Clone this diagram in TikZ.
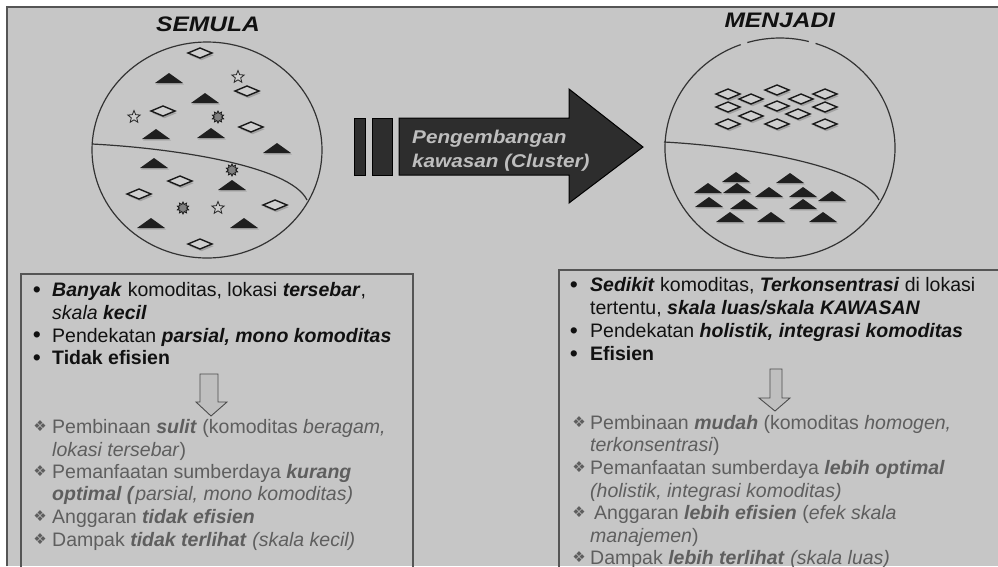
\documentclass[tikz,border=0pt]{standalone}
\usepackage{fontspec}
\setmainfont{Liberation Sans}
\newfontfamily\symfont{DejaVu Sans}
\usetikzlibrary{shapes.geometric}
\definecolor{bgc}{HTML}{C6C6C6}
\definecolor{framec}{HTML}{555555}
\definecolor{tblack}{HTML}{111111}
\definecolor{tgray}{HTML}{5E5E5E}
\definecolor{arrowc}{HTML}{2D2D2D}
\definecolor{arrtxt}{HTML}{BEBEBE}
\definecolor{diafill}{HTML}{CFCFCF}
\newcommand\lstfont{\fontsize{19.5}{22.7}\selectfont}
\newcommand\bfit[1]{\textbf{\textit{#1}}}
\newcommand\dbul{{\symfont\fontsize{15}{15}\selectfont ❖}}
\tikzset{
  txt/.style={anchor=base west, inner sep=0pt, font=\lstfont, text=tblack},
  gtxt/.style={txt, text=tgray},
  bul/.style={anchor=base, inner sep=0pt, font=\fontsize{23}{23}\selectfont, text=tblack},
  gbul/.style={anchor=base, inner sep=0pt, text=tgray},
  boxline/.style={draw=framec, line width=1.3pt},
  circ/.style={draw=black!80, line width=1.2pt},
  downarr/.style={draw=black!70, fill=black!25, line width=0.9pt},
  dia/.pic={
    \fill[black!45, opacity=0.6] (-10.5,2.2) -- (1.5,-2.8) -- (13.5,2.2) -- (1.5,7.2) -- cycle;
    \filldraw[fill=diafill, draw=black!90, line width=1.4pt] (-12,0) -- (0,-5) -- (12,0) -- (0,5) -- cycle;
  },
  tri/.pic={
    \fill[black!45, opacity=0.5] (-13,6.5) -- (15,6.5) -- (1,-3.5) -- cycle;
    \fill[black!88] (-14,5) -- (14,5) -- (0,-5) -- cycle;
  },
  starsh/.style={star, star points=5, star point ratio=2.3, draw=black!85, fill=diafill, minimum size=13pt, inner sep=0pt, line width=0.8pt},
  burst/.style={star, star points=10, star point ratio=1.6, draw=black!90, fill=black!50, minimum size=12pt, inner sep=0pt, line width=0.8pt},
}
\begin{document}
\begin{tikzpicture}[x=1pt,y=-1pt]
\useasboundingbox (0,0) rectangle (998,566);
\fill[white] (0,0) rectangle (998,566);
\fill[bgc] (7,7) rectangle (998,566);
\draw[framec, line width=2pt] (7,566) -- (7,7) -- (998,7);

% titles
\node[anchor=base, inner sep=0pt, text=tblack] (t1) at (208,31.7) {\scalebox{1.17}[1]{\fontsize{21}{21}\selectfont\bfit{SEMULA}}};
\node[anchor=base, inner sep=0pt, text=tblack] (t2) at (780,27.5) {\scalebox{1.17}[1]{\fontsize{21}{21}\selectfont\bfit{MENJADI}}};

% left circle
\draw[circ] (207,150) ellipse [x radius=115, y radius=108];
\draw[circ] (92,144) .. controls (170,148) and (290,165) .. (307,200);
\foreach \x/\y in {200/53,247/91,163/111,251/127,180/181,139/194,275/205,200/244}
  \pic at (\x,\y) {dia};
\foreach \x/\y in {169/78,205/98,156/134,211/133,277/148,154/163,232/185,151/223,244/223}
  \pic at (\x,\y) {tri};
\node[starsh] (s1) at (238,77) {};
\node[starsh] (s2) at (134,117) {};
\node[starsh] (s3) at (218,208) {};
\node[burst] (b1) at (218,117) {};
\node[burst] (b2) at (232,170) {};
\node[burst] (b3) at (183,208) {};

% right circle (with two small gaps at the top)
\draw[circ] ([shift={(288:115 and 110)}]780,148) arc[start angle=288, end angle=610, x radius=115, y radius=110];
\draw[circ] ([shift={(253.5:115 and 110)}]780,148) arc[start angle=253.5, end angle=284.5, x radius=115, y radius=110];
\draw[circ] (664,142) .. controls (740,146) and (862,165) .. (879,200);
\foreach \x/\y in {728/94,751/99,777/90,801/99,825/94,728/107,777/106,825/107,751/116,798/114,728/124,777/124,825/124}
  \pic at (\x,\y) {dia};
\foreach \x/\y in {736/177,790/178,708/188,737/188,769/192,803/192,832/196,709/202,744/204,803/204,730/217,771/217,823/217}
  \pic at (\x,\y) {tri};

% big arrow
\filldraw[fill=arrowc, draw=black, line width=1pt] (354,118) rectangle (365,175);
\filldraw[fill=arrowc, draw=black, line width=1pt] (372,118) rectangle (392,175);
\filldraw[fill=arrowc, draw=black, line width=1pt] (399,118) -- (569,118) -- (569,89) -- (643,147) -- (569,203) -- (569,175) -- (399,175) -- cycle;
\node[anchor=base west, inner sep=0pt, text=arrtxt] (a1) at (412,143.3) {\scalebox{1.12}[1]{\fontsize{18.5}{18.5}\selectfont\bfit{Pengembangan}}};
\node[anchor=base west, inner sep=0pt, text=arrtxt] (a2) at (412,167.5) {\scalebox{1.12}[1]{\fontsize{18.5}{18.5}\selectfont\bfit{kawasan (Cluster)}}};

% left box
\draw[boxline] (21,580) -- (21,274) -- (413,274) -- (413,580);
\node[bul] (lb1) at (37,297.5) {•};
\node[txt] (l1) at (52,296.7) {\bfit{Banyak} komoditas, lokasi \bfit{tersebar},};
\node[txt] (l2) at (52,319.4) {\textit{skala} \bfit{kecil}};
\node[bul] (lb2) at (37,342.9) {•};
\node[txt] (l3) at (52,342.1) {Pendekatan \bfit{parsial, mono komoditas}};
\node[bul] (lb3) at (37,365.6) {•};
\node[txt] (l4) at (52,364.8) {\textbf{Tidak efisien}};
\draw[downarr] (200,374) -- (218,374) -- (218,402) -- (227,402) -- (211,416) -- (196,402) -- (200,402) -- cycle;
\node[gbul] (lg1) at (40,431.5) {\dbul};
\node[gtxt] (l5) at (52,433.3) {Pembinaan \bfit{sulit} (komoditas \textit{beragam,}};
\node[gtxt] (l6) at (52,456) {\textit{lokasi tersebar})};
\node[gbul] (lg2) at (40,476.5) {\dbul};
\node[gtxt] (l7) at (52,478.3) {Pemanfaatan sumberdaya \bfit{kurang}};
\node[gtxt] (l8) at (52,500.7) {\bfit{optimal (}\textit{parsial, mono komoditas)}};
\node[gbul] (lg3) at (40,521.5) {\dbul};
\node[gtxt] (l9) at (52,523.3) {Anggaran \bfit{tidak efisien}};
\node[gbul] (lg4) at (40,544.2) {\dbul};
\node[gtxt] (l10) at (52,546) {Dampak \bfit{tidak terlihat} \textit{(skala kecil)}};

% right box
\draw[boxline] (559,580) -- (559,270) -- (1010,270);
\node[bul] (rb1) at (574,292.5) {•};
\node[txt] (r1) at (590,291.7) {\bfit{Sedikit} komoditas, \bfit{Terkonsentrasi} di lokasi};
\node[txt] (r2) at (590,314.7) {tertentu, \bfit{skala luas/skala KAWASAN}};
\node[bul] (rb2) at (574,338.5) {•};
\node[txt] (r3) at (590,337.7) {Pendekatan \bfit{holistik, integrasi komoditas}};
\node[bul] (rb3) at (574,361.5) {•};
\node[txt] (r4) at (590,360.7) {\textbf{Efisien}};
\draw[downarr] (770,369) -- (782,369) -- (782,398) -- (790,398) -- (775,411) -- (759,398) -- (770,398) -- cycle;
\node[gbul] (rg1) at (579,427.2) {\dbul};
\node[gtxt] (r5) at (590,429) {Pembinaan \bfit{mudah} (komoditas \textit{homogen,}};
\node[gtxt] (r6) at (590,451.7) {\textit{terkonsentrasi})};
\node[gbul] (rg2) at (579,472.5) {\dbul};
\node[gtxt] (r7) at (590,474.3) {Pemanfaatan sumberdaya \bfit{lebih optimal}};
\node[gtxt] (r8) at (590,497) {\textit{(holistik, integrasi komoditas)}};
\node[gbul] (rg3) at (579,517.8) {\dbul};
\node[gtxt] (r9) at (594,519.6) {Anggaran \bfit{lebih efisien} (\textit{efek skala}};
\node[gtxt] (r10) at (590,542.3) {\textit{manajemen})};
\node[gbul] (rg4) at (579,562.5) {\dbul};
\node[gtxt] (r11) at (590,564.3) {Dampak \bfit{lebih terlihat} \textit{(skala luas)}};
\end{tikzpicture}
\end{document}
